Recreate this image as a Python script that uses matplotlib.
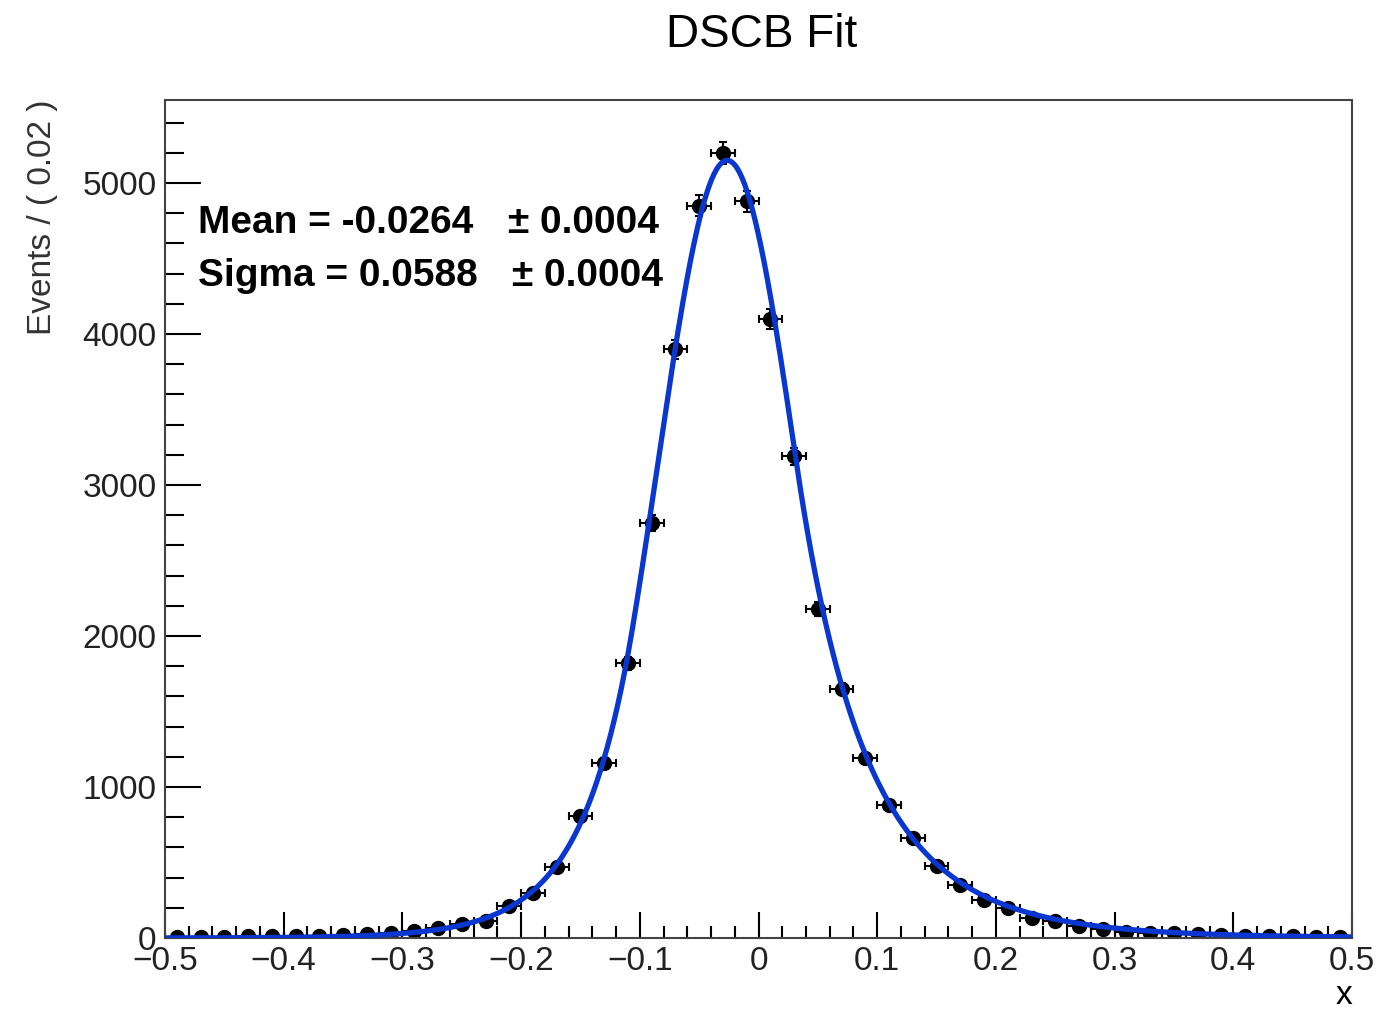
import numpy as np
import matplotlib.pyplot as plt
from matplotlib.ticker import MultipleLocator, FuncFormatter

plt.rcParams['font.family'] = ['Liberation Sans', 'DejaVu Sans']

# binned data, bin width 0.02
bin_centers = np.round(np.arange(-0.49, 0.50, 0.02), 2)
counts = [5, 5, 8, 10, 10, 12, 15, 20, 25, 35,
          45, 65, 90, 110, 210, 300, 470, 810, 1160, 1820,
          2750, 3900, 4850, 5200, 4880, 4100, 3190, 2180, 1650, 1190,
          880, 660, 480, 350, 250, 200, 130, 110, 80, 60,
          40, 35, 30, 25, 20, 15, 12, 10, 8, 5]

# DSCB fit parameters
fit_mean = -0.0264
fit_sigma = 0.0588
fit_norm = 5150
alpha_l, n_l = 1.35, 40.0
alpha_r, n_r = 1.0, 12.0


def dscb(x):
    t = (x - fit_mean) / fit_sigma
    y = np.exp(-0.5 * t**2)
    lo = t < -alpha_l
    hi = t > alpha_r
    y[lo] = np.exp(-0.5 * alpha_l**2) * (1 + alpha_l / n_l * (-t[lo] - alpha_l)) ** (-n_l)
    y[hi] = np.exp(-0.5 * alpha_r**2) * (1 + alpha_r / n_r * (t[hi] - alpha_r)) ** (-n_r)
    return fit_norm * y


fig = plt.figure(figsize=(13.82, 10.11), dpi=100)
ax = fig.add_axes([0.1194, 0.0722, 0.8589, 0.8289])

xs = np.linspace(-0.5, 0.5, 1000)
ax.plot(xs, dscb(xs), color='#0a37d0', lw=3.8, zorder=3)

counts = np.array(counts)
ax.errorbar(bin_centers, counts, yerr=np.sqrt(counts), xerr=0.01, fmt='o',
            color='black', ms=10, elinewidth=1.5, capsize=3, capthick=1.5, zorder=2)

ax.set_xlim(-0.5, 0.5)
ax.set_ylim(0, 5550)
ax.xaxis.set_major_locator(MultipleLocator(0.1))
ax.xaxis.set_minor_locator(MultipleLocator(0.02))
ax.yaxis.set_major_locator(MultipleLocator(1000))
ax.yaxis.set_minor_locator(MultipleLocator(200))
ax.xaxis.set_major_formatter(FuncFormatter(lambda v, p: ('%g' % round(v, 2)).replace('-', '\u2212')))
ax.tick_params(which='both', direction='in', top=False, right=False,
               labelsize=24, width=1.5, pad=6, labelcolor='#222222')
ax.tick_params(axis='y', which='major', length=26)
ax.tick_params(axis='y', which='minor', length=14)
ax.tick_params(axis='x', which='major', length=19)
ax.tick_params(axis='x', which='minor', length=9)
for s in ax.spines.values():
    s.set_linewidth(1.5)
    s.set_color('#444444')

fig.text(0.551, 0.965, 'DSCB Fit', ha='center', va='center', fontsize=33)
ax.set_ylabel('Events / ( 0.02 )', fontsize=24, loc='top', labelpad=18, color='#333333')
ax.set_xlabel('x', fontsize=24, loc='right', labelpad=2)

ax.text(0.028, 0.853, 'Mean = -0.0264', transform=ax.transAxes, fontsize=28,
        fontweight='bold', va='center')
ax.text(0.289, 0.853, '\u00b1 0.0004', transform=ax.transAxes, fontsize=28,
        fontweight='bold', va='center')
ax.text(0.028, 0.790, 'Sigma = 0.0588', transform=ax.transAxes, fontsize=28,
        fontweight='bold', va='center')
ax.text(0.292, 0.790, '\u00b1 0.0004', transform=ax.transAxes, fontsize=28,
        fontweight='bold', va='center')

fig.savefig('out.png', dpi=100)
